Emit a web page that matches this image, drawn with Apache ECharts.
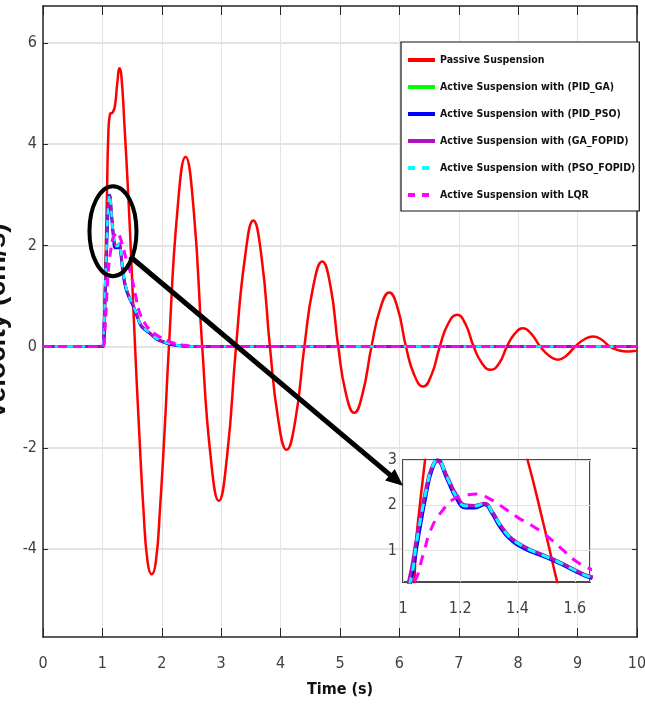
<!DOCTYPE html>
<html><head><meta charset="utf-8">
<script src="https://cdn.jsdelivr.net/npm/echarts@6/dist/echarts.min.js"></script>
<style>html,body{margin:0;padding:0;background:#fff}#c{width:645px;height:707px}</style>
</head><body><div id="c"></div><script>
// ---------- data ----------
const velocityTicks = [-4, -2, 0, 2, 4, 6];
const insetVelocityTicks = [1, 2, 3];
const seriesNames = [
  'Passive Suspension',
  'Active Suspension with (PID_GA)',
  'Active Suspension with (PID_PSO)',
  'Active Suspension with (GA_FOPID)',
  'Active Suspension with (PSO_FOPID)',
  'Active Suspension with LQR'
];
const passive = [[0,0],[1.0,0],[1.025,0],[1.05,1.5],[1.077,3.0],[1.10,4.2],[1.13,4.6],[1.17,4.62],[1.21,4.75],[1.25,5.2],[1.29,5.5],[1.32,5.35],[1.37,4.4],[1.435,3.0],[1.49,1.6],[1.55,0],
  [1.62,-1.7],[1.69,-3.2],[1.76,-4.25],[1.83,-4.5],[1.90,-4.25],[1.97,-3.2],[2.05,-1.6],[2.12,0],
  [2.26,2.65],[2.40,3.75],[2.54,2.65],[2.68,0],
  [2.82,-2.15],[2.96,-3.05],[3.10,-2.15],[3.25,0],
  [3.40,1.76],[3.54,2.49],[3.68,1.76],[3.82,0],
  [3.96,-1.44],[4.10,-2.04],[4.25,-1.44],[4.40,0],
  [4.55,1.19],[4.70,1.68],[4.84,1.19],[4.97,0],
  [5.10,-0.93],[5.24,-1.31],[5.38,-0.93],[5.53,0],
  [5.68,0.76],[5.83,1.07],[5.97,0.76],[6.11,0],
  [6.25,-0.56],[6.40,-0.79],[6.54,-0.56],[6.68,0],
  [6.82,0.45],[6.97,0.63],[7.11,0.45],[7.25,0],
  [7.39,-0.33],[7.54,-0.46],[7.68,-0.33],[7.81,0],
  [7.94,0.25],[8.08,0.36],[8.22,0.25],[8.37,0],
  [8.52,-0.18],[8.67,-0.26],[8.81,-0.18],[8.96,0],
  [9.11,0.14],[9.26,0.2],[9.40,0.14],[9.54,0],
  [9.68,-0.07],[9.83,-0.1],[9.95,-0.09],[10,-0.08]];
const pidGA = [[0,0],[1.0,0],[1.025,0.3],[1.05,1.25],[1.08,2.3],[1.10,2.8],[1.12,3.0],[1.155,2.6],[1.185,2.2],[1.22,1.97],[1.25,1.97],[1.285,2.03],[1.31,1.85],[1.34,1.54],[1.37,1.3],[1.40,1.15],[1.45,0.98],[1.50,0.86],[1.55,0.72],[1.60,0.56],[1.65,0.42],[1.72,0.34],[1.80,0.27],[1.90,0.17],[2.0,0.11],[2.1,0.07],[2.2,0.04],[2.35,0.01],[2.5,0],[10,0]];
const pidPSO = [[0,0],[1.0,0],[1.025,0.3],[1.05,1.2],[1.08,2.25],[1.10,2.78],[1.12,2.99],[1.155,2.58],[1.185,2.18],[1.22,1.95],[1.25,1.95],[1.285,2.02],[1.31,1.84],[1.34,1.52],[1.37,1.28],[1.40,1.13],[1.45,0.97],[1.50,0.85],[1.55,0.71],[1.60,0.55],[1.65,0.41],[1.72,0.33],[1.80,0.26],[1.90,0.16],[2.0,0.1],[2.1,0.06],[2.2,0.03],[2.35,0.01],[2.5,0],[10,0]];
const gaFOPID = [[0,0],[1.0,0],[1.02,0.3],[1.05,1.35],[1.08,2.35],[1.10,2.82],[1.12,2.98],[1.155,2.62],[1.185,2.24],[1.22,2.0],[1.25,1.99],[1.285,2.04],[1.31,1.87],[1.34,1.56],[1.37,1.32],[1.40,1.17],[1.45,1.0],[1.50,0.87],[1.55,0.73],[1.60,0.57],[1.65,0.43],[1.72,0.35],[1.80,0.27],[1.90,0.17],[2.0,0.11],[2.1,0.07],[2.2,0.04],[2.35,0.01],[2.5,0],[10,0]];
const psoFOPID = [[0,0],[1.0,0],[1.025,0.3],[1.05,1.28],[1.08,2.3],[1.10,2.8],[1.12,3.0],[1.155,2.6],[1.185,2.2],[1.22,1.98],[1.25,1.98],[1.285,2.04],[1.31,1.86],[1.34,1.55],[1.37,1.31],[1.40,1.16],[1.45,0.99],[1.50,0.86],[1.55,0.72],[1.60,0.56],[1.65,0.42],[1.72,0.34],[1.80,0.27],[1.90,0.17],[2.0,0.11],[2.1,0.07],[2.2,0.04],[2.35,0.01],[2.5,0],[10,0]];
const lqr = [[0,0],[1.0,0],[1.04,0.3],[1.07,0.9],[1.10,1.5],[1.14,1.9],[1.18,2.15],[1.22,2.22],[1.26,2.25],[1.30,2.15],[1.35,1.95],[1.40,1.73],[1.45,1.55],[1.50,1.33],[1.56,1.0],[1.60,0.78],[1.65,0.6],[1.72,0.45],[1.80,0.33],[1.90,0.24],[2.0,0.17],[2.1,0.11],[2.2,0.07],[2.35,0.03],[2.5,0.01],[2.7,0],[10,0]];

// annotation geometry in main-axes data coordinates
const zoomEllipse = { t: 1.178, v: 2.28, rt: 0.396, rv: 0.89 };
const arrowFrom = [1.465, 1.78];
const arrowTo = [6.06, -2.75];

// ---------- styling ----------
const NARROW = "'DejaVu Sans Condensed', 'Liberation Sans Narrow', 'Liberation Sans', Arial, sans-serif";
const colors = ['#ff0000', '#00ff00', '#0000ff', '#b012c0', '#00ffff', '#ff00ff'];
const datasets = [passive, pidGA, pidPSO, gaFOPID, psoFOPID, lqr];
const mainStyle = [
  {width: 2.5, type: 'solid'}, {width: 2, type: 'solid'}, {width: 3, type: 'solid'},
  {width: 2.5, type: 'solid'}, {width: 2.5, type: [6, 6]}, {width: 3, type: [9, 6]}
];
const insetStyle = [
  {width: 2.5, type: 'solid'}, {width: 3, type: 'solid'}, {width: 4, type: 'solid'},
  {width: 3.5, type: 'solid'}, {width: 3, type: [8, 7]}, {width: 3, type: [10, 8]}
];
const legendStyle = [
  {width: 4, type: 'solid'}, {width: 4, type: 'solid'}, {width: 4, type: 'solid'},
  {width: 4, type: 'solid'}, {width: 4, type: [7, 7]}, {width: 4, type: [7, 7]}
];

const series = [];
datasets.forEach((d, i) => {
  series.push({
    name: seriesNames[i], type: 'line', xAxisIndex: 0, yAxisIndex: 0, data: d,
    showSymbol: false, symbol: 'none', smooth: 0.5, z: 2 + i * 0.01,
    lineStyle: {color: colors[i], width: mainStyle[i].width, type: mainStyle[i].type},
    itemStyle: {color: colors[i]}, clip: true
  });
});
datasets.forEach((d, i) => {
  series.push({
    name: seriesNames[i], type: 'line', xAxisIndex: 2, yAxisIndex: 2, data: d,
    showSymbol: false, symbol: 'none', smooth: 0.5, z: 6 + i * 0.01,
    lineStyle: {color: colors[i], width: insetStyle[i].width, type: insetStyle[i].type},
    itemStyle: {color: colors[i]}, clip: true
  });
});

const axisColor = '#262626';
const labelStyle = {color: '#404040', fontSize: 16, fontFamily: NARROW};

const option = {
  animation: false,
  backgroundColor: '#ffffff',
  grid: [
    {left: 43, top: 6, width: 594, height: 631, show: false, outerBoundsMode: 'none', containLabel: false},
    {left: 403, top: 460, width: 187, height: 122, show: true, backgroundColor: '#ffffff',
     borderColor: '#4a4a4a', borderWidth: 2, z: 3, outerBoundsMode: 'none', containLabel: false}
  ],
  xAxis: [
    {gridIndex: 0, type: 'value', min: 0, max: 10, interval: 1, position: 'bottom',
     axisLine: {show: true, onZero: false, lineStyle: {color: axisColor, width: 1.5}},
     axisTick: {show: true, inside: true, length: 9, lineStyle: {color: axisColor, width: 1}},
     axisLabel: Object.assign({margin: 19}, labelStyle),
     splitLine: {show: true, lineStyle: {color: '#e4e4e4', width: 1}},
     name: 'Time (s)', nameLocation: 'middle', nameGap: 45,
     nameTextStyle: {fontSize: 16, fontWeight: 'bold', color: '#111', fontFamily: NARROW}},
    {gridIndex: 0, type: 'value', min: 0, max: 10, interval: 1, position: 'top',
     axisLine: {show: true, onZero: false, lineStyle: {color: axisColor, width: 1.5}},
     axisTick: {show: true, inside: true, length: 9, lineStyle: {color: axisColor, width: 1}},
     axisLabel: {show: false}, splitLine: {show: false}},
    {gridIndex: 1, type: 'value', min: 1, max: 1.653, interval: 0.2, position: 'bottom', z: 4,
     axisLine: {show: false, onZero: false},
     axisTick: {show: false},
     axisLabel: Object.assign({margin: 19, showMaxLabel: false}, labelStyle),
     splitLine: {show: true, lineStyle: {color: '#e2e2e2', width: 1}}}
  ],
  yAxis: [
    {gridIndex: 0, type: 'value', min: -5.74, max: 6.73, position: 'left',
     axisLine: {show: true, onZero: false, lineStyle: {color: axisColor, width: 1.5}},
     axisTick: {show: true, inside: true, length: 5, customValues: velocityTicks, lineStyle: {color: axisColor, width: 1}},
     axisLabel: Object.assign({margin: 6, customValues: velocityTicks}, labelStyle),
     splitLine: {show: true, lineStyle: {color: '#e4e4e4', width: 2}},
     name: 'Velocity (cm/s)', nameLocation: 'middle', nameGap: 25, nameRotate: 90,
     nameTextStyle: {fontSize: 28, fontWeight: 'bold', color: '#111', fontFamily: "'Liberation Sans', Arial, sans-serif"}},
    {gridIndex: 0, type: 'value', min: -5.74, max: 6.73, position: 'right',
     axisLine: {show: true, onZero: false, lineStyle: {color: axisColor, width: 1.5}},
     axisTick: {show: true, inside: true, length: 5, customValues: velocityTicks, lineStyle: {color: axisColor, width: 1}},
     axisLabel: {show: false}, splitLine: {show: false}},
    {gridIndex: 1, type: 'value', min: 0.3, max: 3, position: 'left', z: 4,
     axisLine: {show: false, onZero: false},
     axisTick: {show: false, customValues: insetVelocityTicks},
     axisLabel: Object.assign({margin: 6, customValues: insetVelocityTicks}, labelStyle),
     splitLine: {show: true, lineStyle: {color: '#e2e2e2', width: 1}}}
  ],
  legend: {
    orient: 'vertical', left: 401, top: 42,
    backgroundColor: '#ffffff', borderColor: '#111', borderWidth: 1.2,
    padding: [11, 4, 9, 5], itemWidth: 27, itemHeight: 14, itemGap: 13,
    textStyle: {fontSize: 10.5, lineHeight: 14, fontWeight: 'bold', color: '#111', fontFamily: NARROW},
    itemStyle: {opacity: 0},
    data: seriesNames.map((n, i) => ({name: n, itemStyle: {opacity: 0},
      lineStyle: {color: colors[i], width: legendStyle[i].width, type: legendStyle[i].type}})),
    z: 8
  },
  series: series
};

const chart = echarts.init(document.getElementById('c'));
chart.setOption(option);

// annotation: ellipse + arrow, positioned through the axes' scales
const cc = chart.convertToPixel({seriesIndex: 0}, [zoomEllipse.t, zoomEllipse.v]);
const ce = chart.convertToPixel({seriesIndex: 0}, [zoomEllipse.t + zoomEllipse.rt, zoomEllipse.v - zoomEllipse.rv]);
const p0 = chart.convertToPixel({seriesIndex: 0}, arrowFrom);
const p1 = chart.convertToPixel({seriesIndex: 0}, arrowTo);
const dx = p1[0] - p0[0], dy = p1[1] - p0[1], L = Math.sqrt(dx * dx + dy * dy);
const ux = dx / L, uy = dy / L, hl = 17, hw = 7.5;
const bx = p1[0] - ux * hl, by = p1[1] - uy * hl;
chart.setOption({
  graphic: [
    {type: 'ellipse', z: 20, shape: {cx: cc[0], cy: cc[1], rx: ce[0] - cc[0], ry: ce[1] - cc[1]},
     style: {fill: 'none', stroke: '#000', lineWidth: 4}},
    {type: 'line', z: 20, shape: {x1: p0[0], y1: p0[1], x2: bx + ux * 2, y2: by + uy * 2},
     style: {stroke: '#000', lineWidth: 5}},
    {type: 'polygon', z: 20, shape: {points: [[p1[0], p1[1]], [bx - uy * hw, by + ux * hw], [bx + uy * hw, by - ux * hw]]},
     style: {fill: '#000'}}
  ]
});
</script></body></html>
